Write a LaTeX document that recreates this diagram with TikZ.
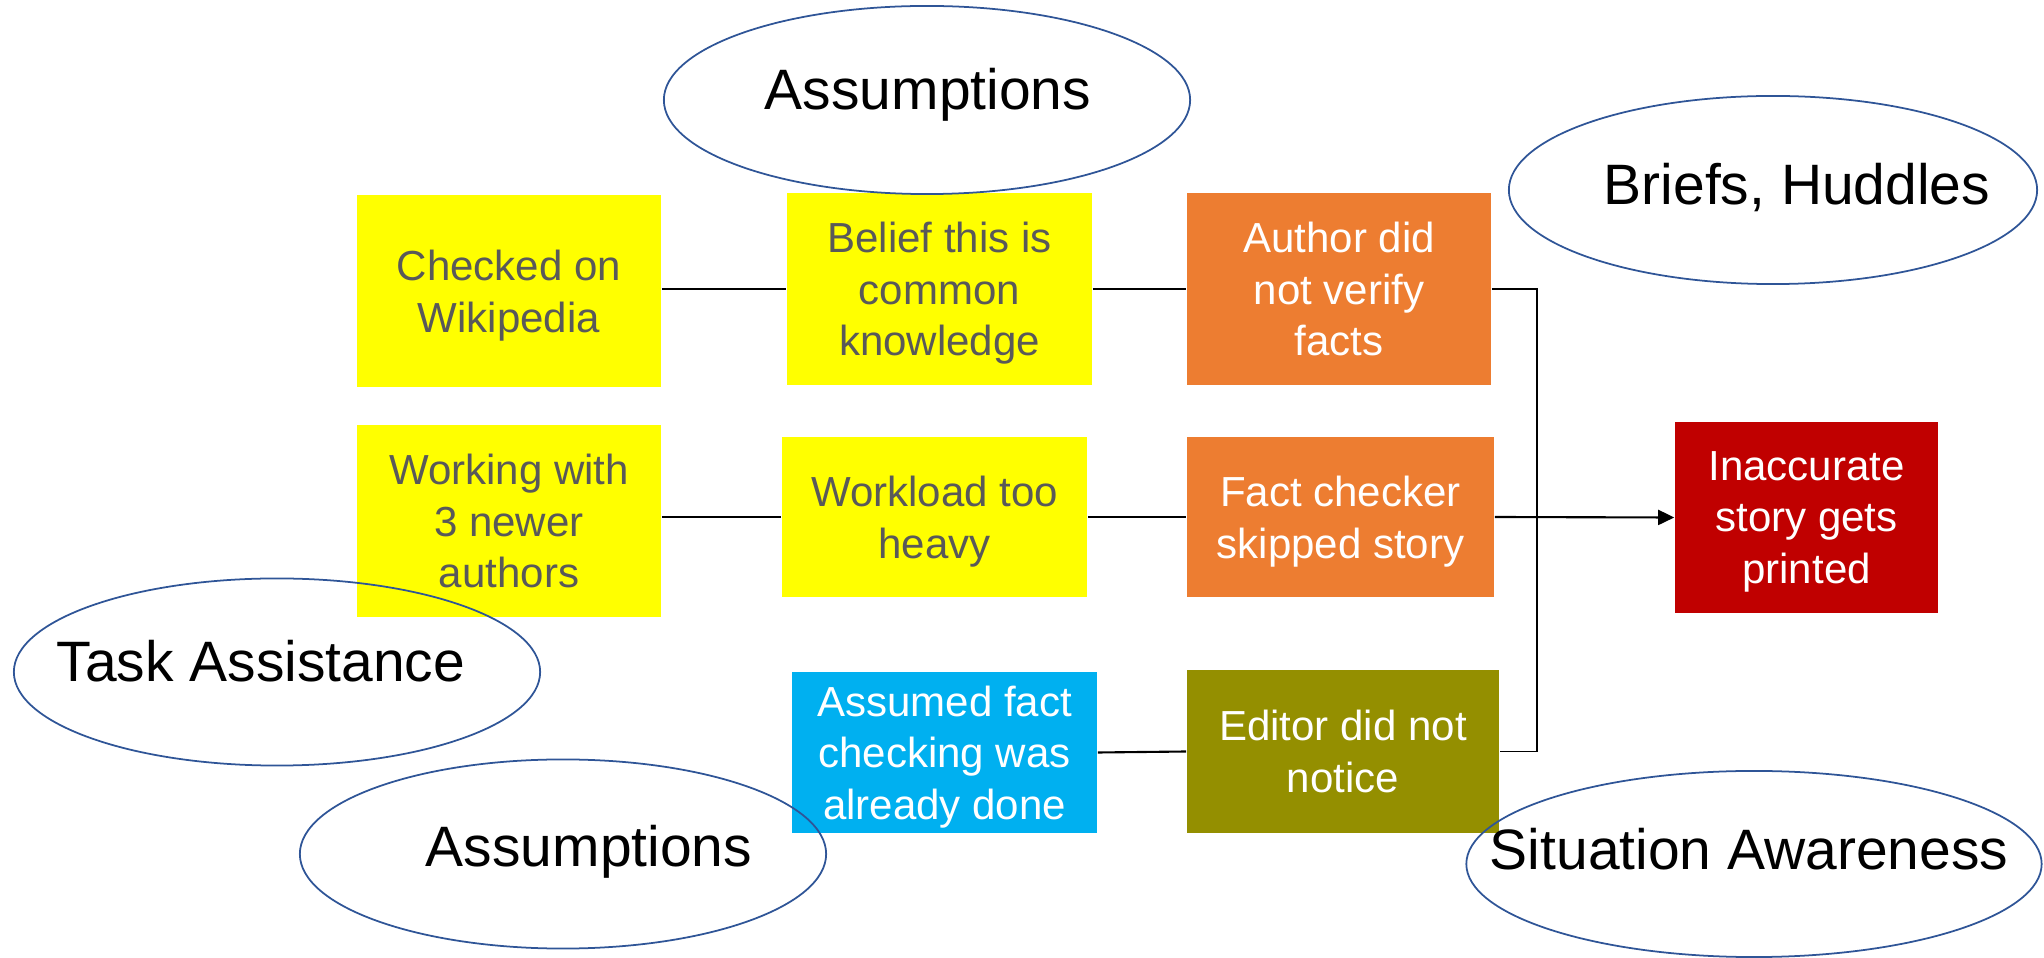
\documentclass[tikz,border=0pt]{standalone}
\usepackage{fontspec}
\setmainfont{Liberation Sans}
\usepackage{tikz}
\usetikzlibrary{shapes.geometric,arrows.meta,positioning,calc}
\definecolor{causeyellow}{HTML}{FFFF00}
\definecolor{causegray}{HTML}{595959}
\definecolor{causeorange}{HTML}{ED7D31}
\definecolor{causecyan}{HTML}{00B0F0}
\definecolor{causeolive}{HTML}{948F00}
\definecolor{eventred}{HTML}{C00000}
\definecolor{ovalblue}{HTML}{2F5597}
\tikzset{
  causebox/.style={rectangle, inner sep=0pt, align=center, text depth=0pt,
    font=\fontsize{11.95}{14.7}\selectfont},
  yellowbox/.style={causebox, fill=causeyellow, text=causegray},
  orangebox/.style={causebox, fill=causeorange, text=white},
  cyanbox/.style={causebox, fill=causecyan, text=white},
  olivebox/.style={causebox, fill=causeolive, text=white},
  redbox/.style={causebox, fill=eventred, text=white},
  barrier/.style={ellipse, draw=ovalblue, line width=0.5pt, inner sep=0pt},
  barriertext/.style={anchor=base, font=\fontsize{16.2}{19}\selectfont},
  link/.style={line width=0.6pt},
  buslink/.style={line width=0.35pt}
}

\begin{document}
\begin{tikzpicture}[x=0.01cm, y=-0.01cm]
    \useasboundingbox (0,0) rectangle (2044,958);

    \node[yellowbox, minimum width=3.04cm, minimum height=1.92cm] (checked) at (509,291) {Checked on\\Wikipedia};
    \node[yellowbox, minimum width=3.05cm, minimum height=1.92cm] (belief) at (939.5,289) {Belief this is\\common\\knowledge};
    \node[orangebox, minimum width=3.04cm, minimum height=1.92cm] (verify) at (1339,289) {Author did\\not verify\\facts};
    \node[yellowbox, minimum width=3.04cm, minimum height=1.92cm] (newer) at (509,521) {Working with\\3 newer\\authors};
    \node[yellowbox, minimum width=3.05cm, minimum height=1.60cm] (workload) at (934.5,517) {Workload too\\heavy};
    \node[orangebox, minimum width=3.07cm, minimum height=1.60cm] (skipped) at (1340.5,517) {Fact checker\\skipped story};
    \node[cyanbox, minimum width=3.05cm, minimum height=1.61cm] (assumed) at (944.5,752.5) {Assumed fact\\checking was\\already done};
    \node[olivebox, minimum width=3.12cm, minimum height=1.63cm] (notice) at (1343,751.5) {Editor did not\\notice};
    \node[redbox, minimum width=2.63cm, minimum height=1.91cm] (printed) at (1806.5,517.5) {Inaccurate\\story gets\\printed};

    \coordinate (bus) at (1537,517);

    \draw[link] (belief.west -| checked.east) -- (belief.west);
    \draw[link] (belief.east) -- (verify.west);
    \draw[link] (workload.west -| newer.east) -- (workload.west);
    \draw[link] (workload.east) -- (skipped.west);
    \draw[link] (assumed.east) -- (notice.west);
    \draw[buslink] (verify.east) -| (bus) |- (notice.east);
    \draw[link, -{Triangle[length=0.16cm, width=0.15cm]}] (skipped.east) -- (printed.west);

    \node[barrier, minimum width=5.26cm, minimum height=1.88cm] (assumetop) at (927,100) {};
    \node[barrier, minimum width=5.28cm, minimum height=1.88cm] (briefs) at (1773,190) {};
    \node[barrier, minimum width=5.26cm, minimum height=1.87cm] (taskhelp) at (277,672) {};
    \node[barrier, minimum width=5.26cm, minimum height=1.89cm] (assumebot) at (563,854) {};
    \node[barrier, minimum width=5.75cm, minimum height=1.86cm] (awareness) at (1754,864) {};

    \node[barriertext] at ($(assumetop.center)+(1,10)$) {Assumptions};
    \node[barriertext] at ($(briefs.center)+(24,15)$) {Briefs, Huddles};
    \node[barriertext] at ($(taskhelp.center)+(-16,10)$) {Task Assistance};
    \node[barriertext] at ($(assumebot.center)+(26,13)$) {Assumptions};
    \node[barriertext] at ($(awareness.center)+(-5,6)$) {Situation Awareness};
\end{tikzpicture}
\end{document}
